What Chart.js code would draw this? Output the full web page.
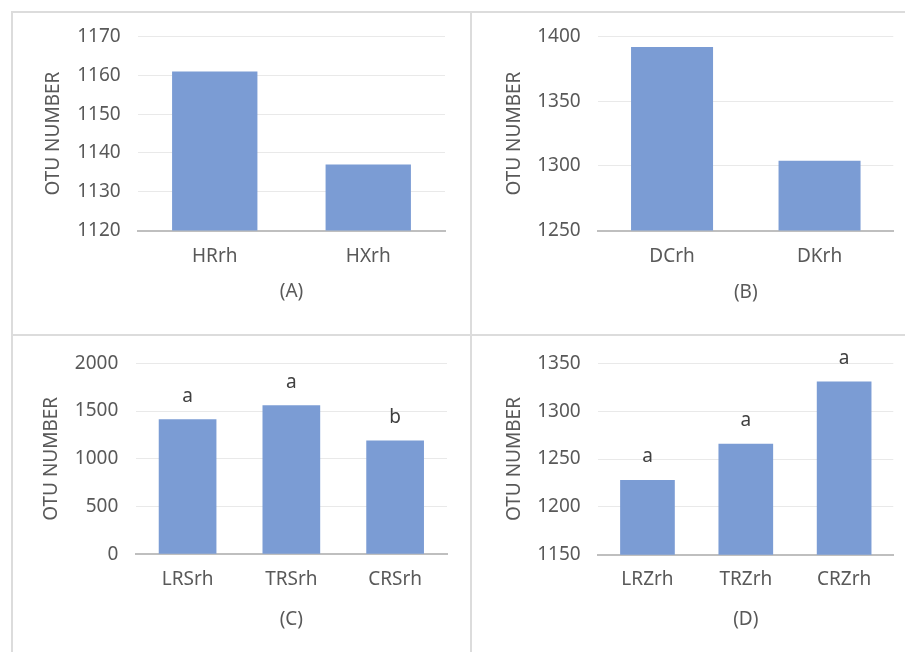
<!DOCTYPE html>
<html>
<head>
<meta charset="utf-8">
<script src="https://cdn.jsdelivr.net/npm/chart.js@4.4.1/dist/chart.umd.min.js"></script>
<style>
  html, body { margin: 0; padding: 0; background: #ffffff; }
  body { width: 905px; height: 652px; position: relative; overflow: hidden; }
  .frame { position: absolute; box-sizing: border-box; border: 2px solid #dcdcdc; }
  canvas { position: absolute; }
</style>
</head>
<body>
<canvas id="chartA"></canvas>
<canvas id="chartB"></canvas>
<canvas id="chartC"></canvas>
<canvas id="chartD"></canvas>
<div class="frame" style="left:11px;top:11px;width:461px;height:325px"></div>
<div class="frame" style="left:470px;top:11px;width:450px;height:325px"></div>
<div class="frame" style="left:11px;top:334px;width:461px;height:340px"></div>
<div class="frame" style="left:470px;top:334px;width:450px;height:340px"></div>
<script>
// ---- data ----
const labelsA = ['HRrh', 'HXrh'];
const otuA = [1161, 1137];
const ticksA = { min: 1120, max: 1170, step: 10 };

const labelsB = ['DCrh', 'DKrh'];
const otuB = [1392, 1304];
const ticksB = { min: 1250, max: 1400, step: 50 };

const labelsC = ['LRSrh', 'TRSrh', 'CRSrh'];
const otuC = [1415, 1562, 1192];
const lettersC = ['a', 'a', 'b'];
const ticksC = { min: 0, max: 2000, step: 500 };

const labelsD = ['LRZrh', 'TRZrh', 'CRZrh'];
const otuD = [1228, 1266, 1331];
const lettersD = ['a', 'a', 'a'];
const ticksD = { min: 1150, max: 1350, step: 50 };

const panelTitles = ['(A)', '(B)', '(C)', '(D)'];
const yAxisTitle = 'OTU NUMBER';

// ---- styling ----
const FONT = '"Noto Sans", "Noto Sans CJK SC", sans-serif';
const FONT_SIZE = 19;
const LINE_H = FONT_SIZE * 1.2;
const TEXT = '#595959';
const BAR = '#7b9cd4';
const GRID = '#e9e9e9';
const AXIS = '#bfbfbf';

// significance letters written above each bar, positioned from the bar element itself
const groupLetters = {
  id: 'groupLetters',
  afterDatasetsDraw(chart, args, opts) {
    if (!opts || !opts.letters) return;
    const meta = chart.getDatasetMeta(0);
    const ctx = chart.ctx;
    ctx.save();
    ctx.font = `${FONT_SIZE}px ${FONT}`;
    ctx.fillStyle = '#404040';
    ctx.textAlign = 'center';
    ctx.textBaseline = 'middle';
    meta.data.forEach((bar, i) => {
      ctx.fillText(opts.letters[i], bar.x, bar.y - opts.gap);
    });
    ctx.restore();
  }
};

// page-pixel frame of each panel: canvas box, plot box and text anchors
function buildPanel(id, labels, values, letters, title, t, g) {
  const canvas = document.getElementById(id);
  canvas.width = g.cw;
  canvas.height = g.ch;
  canvas.style.left = g.cx + 'px';
  canvas.style.top = g.cy + 'px';
  const font = { family: FONT, size: FONT_SIZE, lineHeight: 1.2 };

  return new Chart(canvas, {
    type: 'bar',
    data: {
      labels: labels,
      datasets: [{
        data: values,
        backgroundColor: BAR,
        borderWidth: 0,
        categoryPercentage: 1,
        barPercentage: 0.556
      }]
    },
    options: {
      responsive: false,
      animation: false,
      devicePixelRatio: 1,
      layout: { padding: { left: 0, top: g.T - g.cy, right: g.cx + g.cw - g.R, bottom: 0 } },
      plugins: {
        legend: { display: false },
        tooltip: { enabled: false },
        groupLetters: { letters: letters, gap: 23 }
      },
      scales: {
        x: {
          z: 1,
          grid: { display: false, drawTicks: false, tickLength: 0 },
          border: { display: true, color: AXIS, width: 2 },
          ticks: { color: TEXT, font: font, padding: (g.xTickY - g.B) - LINE_H / 2 },
          title: {
            display: true, text: title, color: TEXT, font: font,
            padding: { top: 0, bottom: (g.cy + g.ch - g.xTitleY) - LINE_H / 2 }
          },
          afterFit(s) { s.height = g.cy + g.ch - g.B; }
        },
        y: {
          min: t.min,
          max: t.max,
          ticks: {
            stepSize: t.step, color: TEXT, font: font, padding: g.L - g.yTickRight,
            callback: v => String(v)
          },
          grid: {
            drawTicks: false, tickLength: 0, lineWidth: 1,
            color: c => (c.tick && c.tick.value === t.min) ? 'rgba(0,0,0,0)' : GRID
          },
          border: { display: false },
          title: {
            display: true, text: yAxisTitle, color: TEXT, font: font,
            padding: { top: (g.yTitleX - g.cx) - LINE_H / 2, bottom: 0 }
          },
          afterFit(s) {
            s.width = g.L - g.cx;
            // only half a label height is needed above the top tick
            s.paddingTop = LINE_H / 2;
            s.paddingBottom = LINE_H / 2;
          }
        }
      }
    },
    plugins: [groupLetters]
  });
}

buildPanel('chartA', labelsA, otuA, null, panelTitles[0], ticksA,
  { cx: 13, cy: 13, cw: 457, ch: 321, L: 138, R: 445, T: 36.7, B: 230.5,
    yTickRight: 120.7, yTitleX: 54, xTickY: 256.7, xTitleY: 291.7 });

buildPanel('chartB', labelsB, otuB, null, panelTitles[1], ticksB,
  { cx: 472, cy: 13, cw: 433, ch: 321, L: 598.3, R: 893.3, T: 36.7, B: 230.5,
    yTickRight: 580.7, yTitleX: 515, xTickY: 256.7, xTitleY: 292.7 });

buildPanel('chartC', labelsC, otuC, lettersC, panelTitles[2], ticksC,
  { cx: 13, cy: 337, cw: 457, ch: 315, L: 135.7, R: 447, T: 363.3, B: 554.3,
    yTickRight: 118.3, yTitleX: 51.7, xTickY: 579.3, xTitleY: 619.3 });

buildPanel('chartD', labelsD, otuD, lettersD, panelTitles[3], ticksD,
  { cx: 472, cy: 337, cw: 433, ch: 315, L: 598.3, R: 893.3, T: 363.3, B: 554.7,
    yTickRight: 580.7, yTitleX: 515, xTickY: 580, xTitleY: 620 });
</script>
</body>
</html>
